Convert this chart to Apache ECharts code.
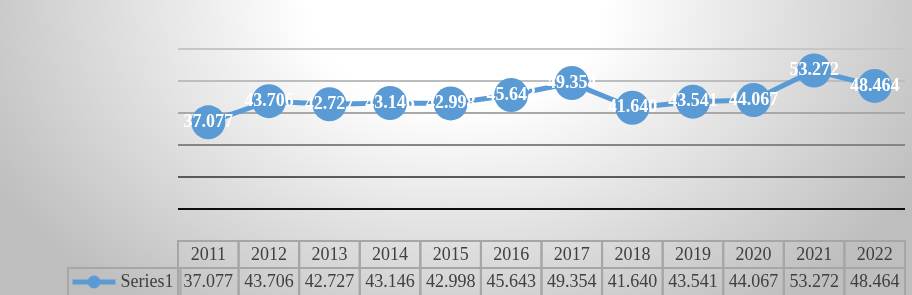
<!DOCTYPE html>
<html>
<head>
<meta charset="utf-8">
<script src="https://cdn.jsdelivr.net/npm/echarts@6/dist/echarts.min.js"></script>
<style>
  html, body { margin: 0; padding: 0; }
  body {
    width: 912px; height: 295px; overflow: hidden;
    background: radial-gradient(ellipse 58% 130% at 50% 0%, #ffffff 0%, #ffffff 28%, #bebebe 100%);
  }
  #chart { width: 912px; height: 295px; }
</style>
</head>
<body>
<div id="chart"></div>
<script>
  var years = ['2011','2012','2013','2014','2015','2016','2017','2018','2019','2020','2021','2022'];
  var series1 = [37.077, 43.706, 42.727, 43.146, 42.998, 45.643, 49.354, 41.640, 43.541, 44.067, 53.272, 48.464];
  var gridColors = ['#808080', '#0d0d0d', '#5a5a5a', '#858585', '#a8a8a8', '#bdbdbd', '#c6c6c6'];

  var serif = '"Liberation Serif", "Times New Roman", serif';
  var myChart = echarts.init(document.getElementById('chart'));

  // table under the plot, one column per category
  function tableCell(params, api) {
    var i = api.value(0);
    var p = api.coord([i, 0]);
    var w = api.size([1, 0])[0];
    var x0 = p[0] - w / 2;
    var y0 = p[1];
    var rowH = 27;
    var border = { fill: 'none', stroke: '#a6a6a6', lineWidth: 2 };
    return {
      type: 'group',
      children: [
        { type: 'rect', shape: { x: x0, y: y0, width: w, height: rowH }, style: border },
        { type: 'rect', shape: { x: x0, y: y0 + rowH, width: w, height: 40 }, style: border },
        { type: 'text', style: { text: years[i], x: p[0], y: y0 + rowH / 2 + 1, align: 'center', verticalAlign: 'middle',
            font: '18px ' + serif, fill: '#404040' } },
        { type: 'text', style: { text: api.value(1).toFixed(3), x: p[0], y: y0 + rowH + 14, align: 'center', verticalAlign: 'middle',
            font: '18px ' + serif, fill: '#404040' } }
      ]
    };
  }

  var option = {
    animation: false,
    backgroundColor: 'transparent',
    grid: { left: 178, right: 7, top: 49, bottom: 54 },
    legend: {
      data: ['Series1'],
      left: 68, top: 268,
      itemWidth: 43, itemHeight: 16,
      padding: [5, 7, 30, 2],
      borderColor: '#a6a6a6', borderWidth: 2,
      lineStyle: { width: 5 },
      textStyle: { fontFamily: serif, fontSize: 18, color: '#404040' }
    },
    xAxis: {
      type: 'category',
      data: years,
      boundaryGap: true,
      axisLine: { show: false },
      axisTick: { show: false },
      axisLabel: { show: false }
    },
    yAxis: {
      type: 'value',
      min: 0, max: 60, interval: 10,
      axisLabel: { show: false },
      axisLine: { show: false },
      axisTick: { show: false },
      splitLine: { lineStyle: { color: gridColors, width: 2 } }
    },
    series: [
      {
        name: 'Series1',
        type: 'line',
        data: series1,
        symbol: 'circle',
        symbolSize: 34,
        lineStyle: { color: '#5b9bd5', width: 5 },
        itemStyle: { color: '#5b9bd5' },
        label: {
          show: true,
          position: 'inside',
          color: '#ffffff',
          fontFamily: serif,
          fontWeight: 'bold',
          fontSize: 18,
          formatter: function (p) { return p.value.toFixed(3); }
        },
        z: 3
      },
      {
        name: 'table',
        type: 'custom',
        data: series1.map(function (v, i) { return [i, v]; }),
        renderItem: tableCell,
        silent: true,
        z: 4
      }
    ]
  };

  myChart.setOption(option);
  window.addEventListener('resize', function () {
    myChart.resize();
  });
</script>
</body>
</html>
